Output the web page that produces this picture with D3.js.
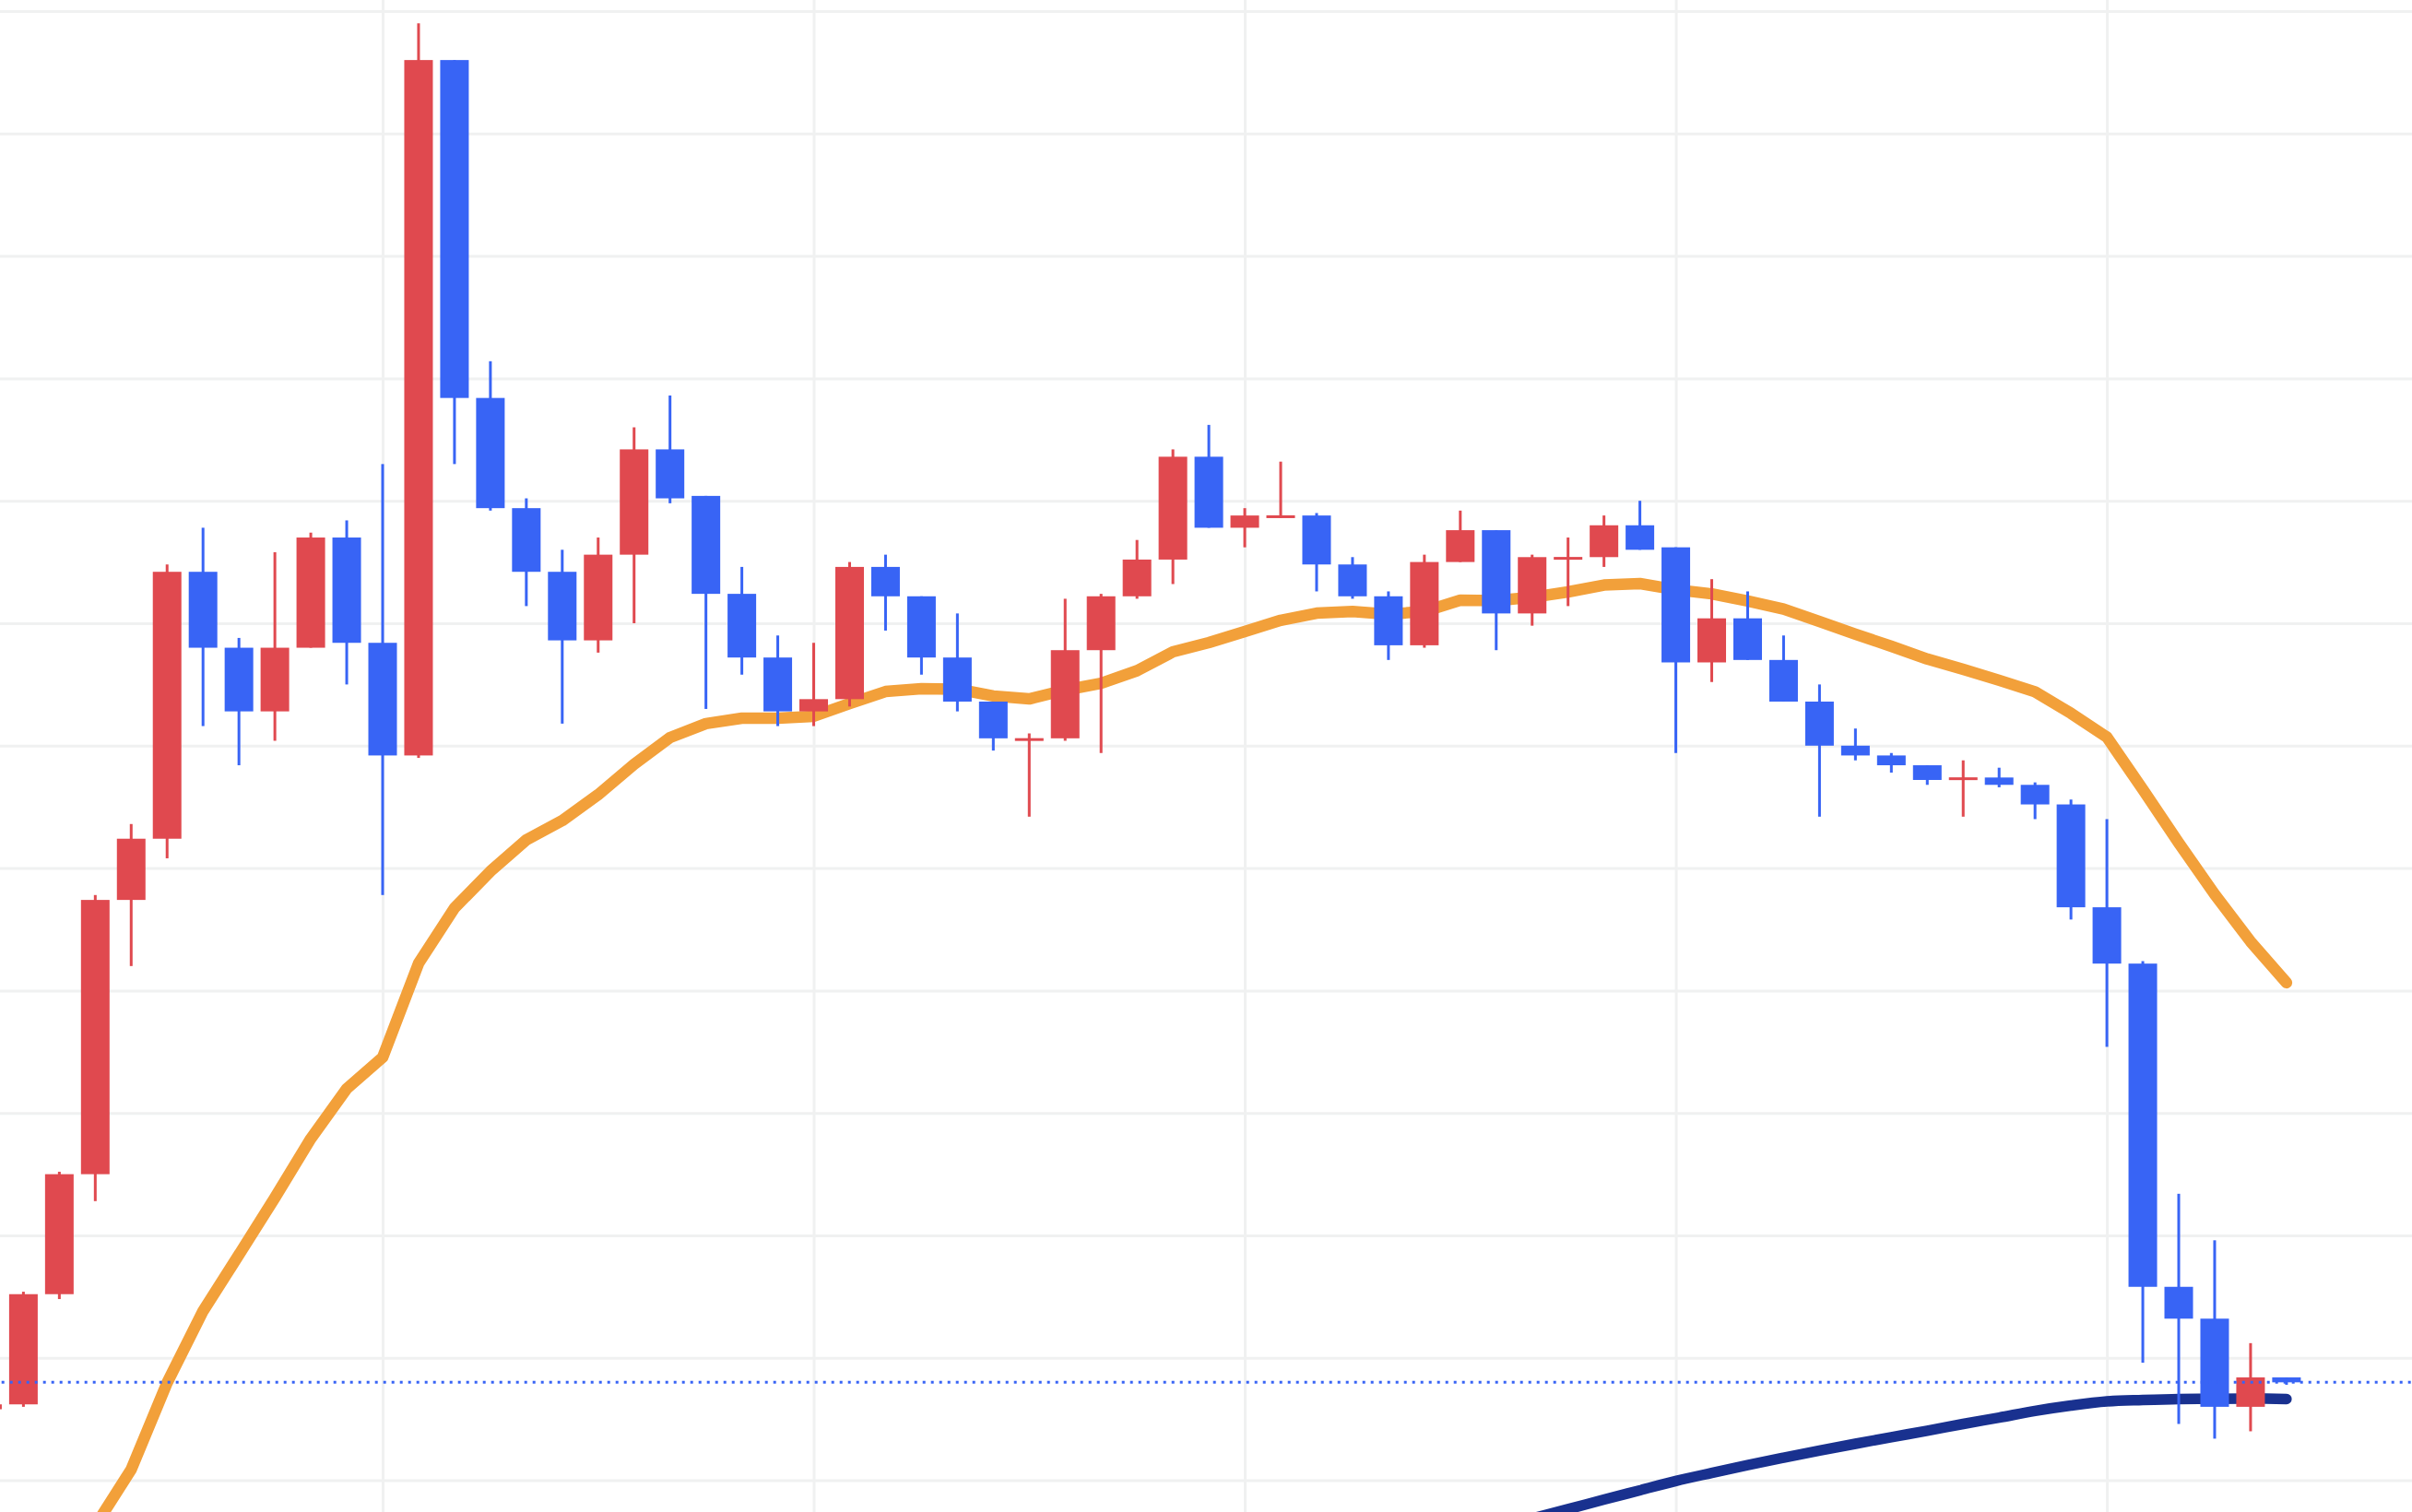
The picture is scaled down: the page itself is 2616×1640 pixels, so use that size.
<!DOCTYPE html>
<html>
<head>
<meta charset="utf-8">
<script src="https://cdn.jsdelivr.net/npm/d3@7"></script>
<style>
  html, body { margin: 0; padding: 0; background: #ffffff; overflow: hidden; }
  svg { display: block; }
</style>
</head>
<body>
<svg id="chart" width="2616" height="1640"></svg>
<script>
// ---- data ----
const candleIndex = [-1,0,1,2,3,4,5,6,7,8,9,10,11,12,13,14,15,16,17,18,19,20,21,22,23,24,25,26,27,28,29,30,31,32,33,34,35,36,37,38,39,40,41,42,43,44,45,46,47,48,49,50,51,52,53,54,55,56,57,58,59,60,61,62,63];
const opens  = [6290,6310,6760,7250,8370,8620,9710,9400,9140,9400,9850,9420,8960,11800,10420,9970,9710,9430,9780,10210,10020,9620,9360,9140,9190,9730,9610,9360,9180,9020,9030,9390,9610,9760,10180,9890,9930,9940,9740,9610,9410,9750,9880,9540,9760,9770,9900,9810,9340,9520,9350,9180,9000,8960,8920,8860,8870,8840,8760,8340,8110,6790,6660,6300,6420];
const highs  = [6320,6770,7260,8390,8680,9740,9890,9440,9790,9870,9920,10150,11950,11800,10570,10010,9800,9850,10300,10430,10020,9730,9450,9420,9750,9780,9610,9540,9180,9050,9600,9620,9840,10210,10310,9970,10160,9950,9770,9630,9780,9960,9880,9780,9850,9940,10000,9810,9680,9630,9450,9250,9070,8970,8920,8940,8910,8850,8780,8700,8120,7170,6980,6560,6420];
const lows   = [6280,6300,6740,7140,8100,8540,9080,8920,9020,9400,9250,8390,8950,10150,9960,9570,9090,9380,9500,9990,9150,9290,9080,9080,9160,9470,9290,9140,8980,8710,9020,8970,9600,9660,9890,9810,9930,9630,9600,9350,9400,9750,9390,9490,9570,9730,9800,8970,9260,9350,9180,8710,8940,8890,8840,8710,8830,8700,8290,7770,6480,6230,6170,6200,6390];
const closes = [6310,6760,7250,8370,8620,9710,9400,9140,9400,9850,9420,8960,11800,10420,9970,9710,9430,9780,10210,10010,9620,9360,9140,9190,9730,9610,9360,9180,9030,9030,9390,9610,9760,10180,9890,9940,9940,9740,9610,9410,9750,9880,9540,9770,9770,9900,9800,9340,9520,9350,9180,9000,8960,8920,8860,8870,8840,8760,8340,8110,6790,6660,6300,6420,6400];

// short moving average (orange), starting at candle 2
const maShortStart = 2;
const maShort = [5814,6044,6398,6691,6921,7154,7395,7599,7727,8111,8337,8487,8615,8694,8800,8924,9033,9090,9112,9112,9120,9172,9221,9233,9231,9203,9191,9227,9255,9306,9383,9421,9466,9512,9541,9548,9537,9548,9594,9592,9606,9628,9656,9662,9637,9620,9591,9558,9507,9455,9406,9354,9312,9267,9220,9132,9035,8821,8603,8393,8200,8032];

// long moving average (navy), starting at candle 41
const maLongStart = 41;
const maLong = [5806,5844,5882,5921,5959,5997,6030,6062,6092,6121,6149,6176,6202,6230,6256,6283,6305,6322,6328,6332,6333,6334,6332];

// horizontal grid levels
const gridLevels = [6000,6500,7000,7500,8000,8500,9000,9500,10000,10500,11000,11500,12000];
// vertical grid every 12 candles
const vGridIndex = [10,22,34,46,58];

// ---- layout ----
const W = 2616, H = 1640;
const svg = d3.select('#chart');

const x = d3.scaleLinear().domain([-1, 63]).range([25.4 - 38.96, 25.4 + 63 * 38.96]);
const y = d3.scaleLinear().domain([5870.4, 12045.2]).range([H, 0]);

const COLORS = {
  up: '#E0494F',
  down: '#3864F5',
  maShort: '#F2A03A',
  maLong: '#19318F',
  grid: '#F0F1F1',
  price: '#3864F5'
};

// grid via axes
const gy = svg.append('g').attr('class', 'ygrid')
  .call(d3.axisLeft(y).tickValues(gridLevels).tickSize(-W * 2).tickFormat(''));
gy.select('.domain').remove();
gy.selectAll('.tick line').attr('stroke', COLORS.grid).attr('stroke-width', 3);

const gx = svg.append('g').attr('class', 'xgrid')
  .call(d3.axisTop(x).tickValues(vGridIndex).tickSize(-H * 2).tickFormat(''));
gx.select('.domain').remove();
gx.selectAll('.tick line').attr('stroke', COLORS.grid).attr('stroke-width', 3);

// moving averages
const shortPts = maShort.map((v, k) => [maShortStart + k, v]);
const longPts = maLong.map((v, k) => [maLongStart + k, v]);
const line = d3.line().x(d => x(d[0])).y(d => y(d[1]));
const lineSmooth = d3.line().x(d => x(d[0])).y(d => y(d[1])).curve(d3.curveMonotoneX);

svg.append('path').datum(longPts)
  .attr('d', lineSmooth)
  .attr('fill', 'none').attr('stroke', COLORS.maLong)
  .attr('stroke-width', 11.5).attr('stroke-linecap', 'round').attr('stroke-linejoin', 'round');

svg.append('path').datum(shortPts)
  .attr('d', line)
  .attr('fill', 'none').attr('stroke', COLORS.maShort)
  .attr('stroke-width', 12.5).attr('stroke-linecap', 'round').attr('stroke-linejoin', 'round');

// candles
const candles = candleIndex.map((idx, k) => ({
  idx, o: opens[k], h: highs[k], l: lows[k], c: closes[k]
}));
const bodyW = 31, wickW = 3;
const colorOf = d => d.c >= d.o ? COLORS.up : COLORS.down;

const cg = svg.append('g').attr('class', 'candles');
cg.selectAll('rect.wick').data(candles).join('rect')
  .attr('class', 'wick')
  .attr('x', d => x(d.idx) - wickW / 2)
  .attr('y', d => y(d.h))
  .attr('width', wickW)
  .attr('height', d => Math.max(1, y(d.l) - y(d.h)))
  .attr('fill', colorOf);

cg.selectAll('rect.body').data(candles).join('rect')
  .attr('class', 'body')
  .attr('x', d => x(d.idx) - bodyW / 2)
  .attr('y', d => {
    const top = y(Math.max(d.o, d.c)), bot = y(Math.min(d.o, d.c));
    const hgt = bot - top;
    return hgt < 3 ? (top + bot) / 2 - 1.5 : top;
  })
  .attr('width', bodyW)
  .attr('height', d => Math.max(3, y(Math.min(d.o, d.c)) - y(Math.max(d.o, d.c))))
  .attr('fill', colorOf);

// last price dotted line
const lastPrice = closes[closes.length - 1];
svg.append('line')
  .attr('x1', 1.7).attr('x2', W)
  .attr('y1', y(lastPrice)).attr('y2', y(lastPrice))
  .attr('stroke', COLORS.price).attr('stroke-width', 3)
  .attr('stroke-dasharray', '3 6');
</script>
</body>
</html>
